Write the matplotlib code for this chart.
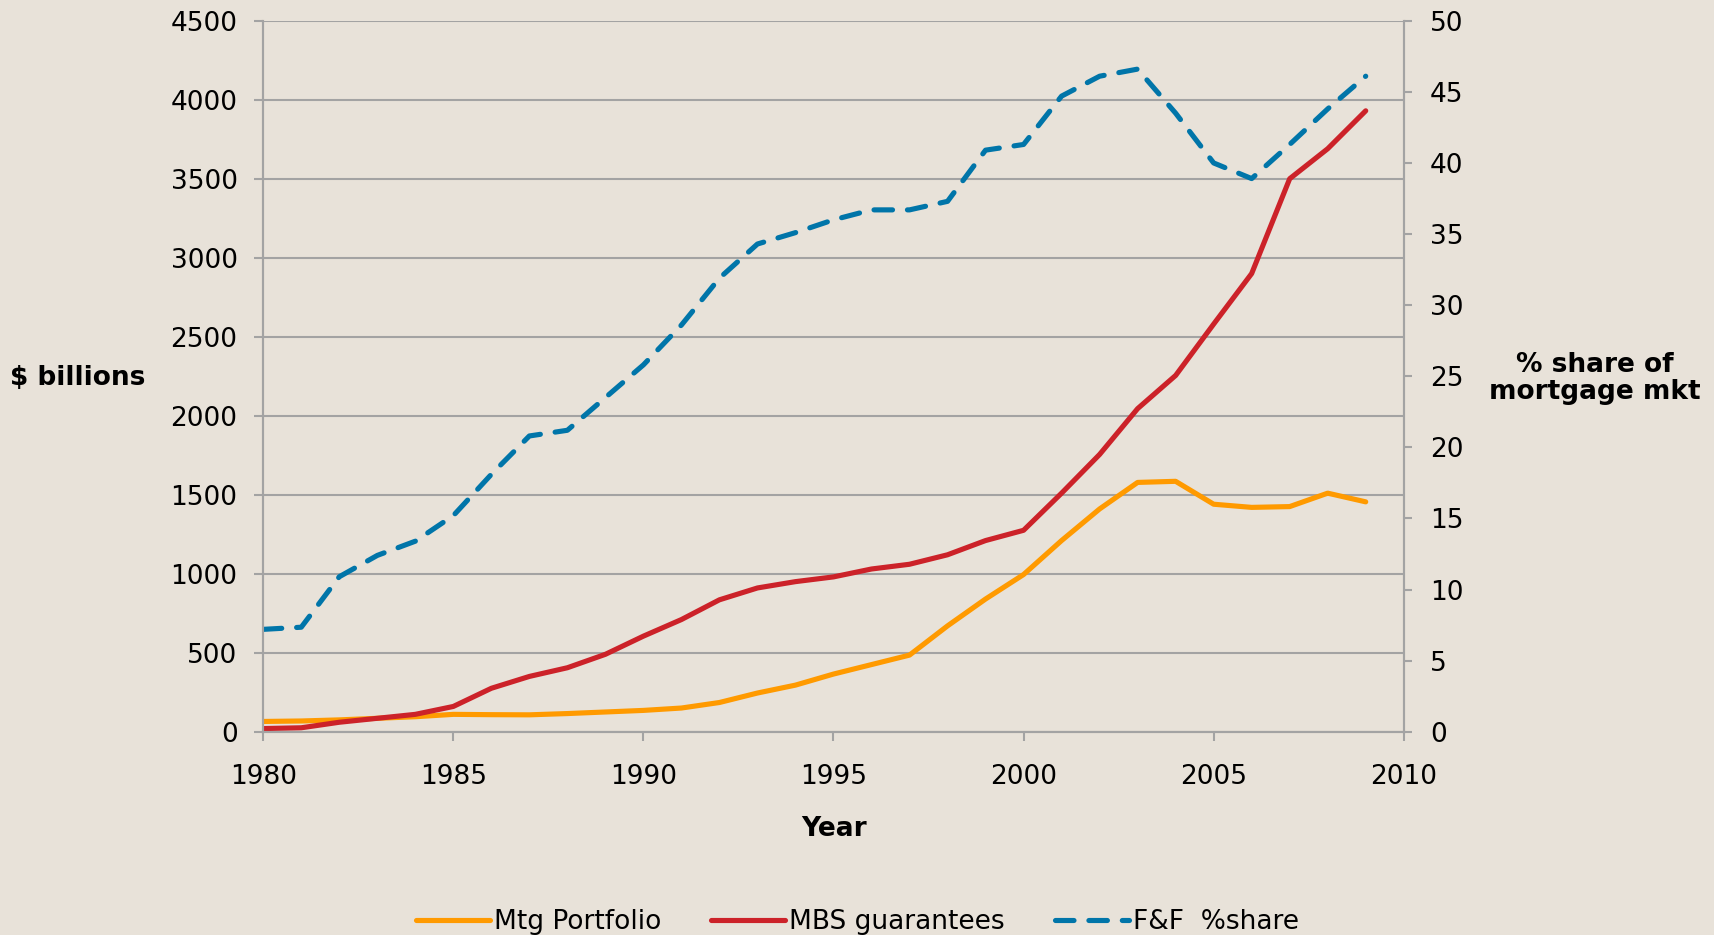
import matplotlib
matplotlib.use("Agg")
import matplotlib.pyplot as plt

years = list(range(1980, 2010))

mtg_portfolio = [65, 68, 75, 85, 95, 110, 108, 107, 115, 125,
                 135, 150, 185, 245, 295, 365, 425, 485, 670, 840,
                 995, 1210, 1410, 1578, 1585, 1440, 1420, 1425, 1510, 1455]

mbs_guarantees = [20, 25, 60, 85, 110, 160, 275, 350, 405, 490,
                  605, 710, 835, 910, 950, 980, 1030, 1060, 1120, 1210,
                  1275, 1510, 1755, 2045, 2255, 2580, 2900, 3500, 3690, 3930]

ff_share = [7.2, 7.35, 10.9, 12.4, 13.4, 15.2, 18.1, 20.8, 21.2, 23.5,
            25.8, 28.6, 31.9, 34.3, 35.1, 36.0, 36.7, 36.7, 37.3, 40.9,
            41.3, 44.7, 46.1, 46.6, 43.5, 40.0, 38.9, 41.3, 43.8, 46.1]

left_ticks = list(range(0, 4501, 500))
right_ticks = list(range(0, 51, 5))
x_ticks = list(range(1980, 2011, 5))

BG = "#E8E2D9"
GRID = "#A3A3A3"
ORANGE = "#FF9A00"
RED = "#CC2229"
BLUE = "#0075A9"

plt.rcParams["font.family"] = ["DejaVu Sans"]

fig = plt.figure(figsize=(17.15, 9.35), dpi=100, facecolor=BG)
ax = fig.add_axes([0.1535, 0.2174, 0.665, 0.7604])
ax.set_facecolor(BG)
ax2 = ax.twinx()

l1, = ax.plot(years, mtg_portfolio, color=ORANGE, lw=3.7, solid_capstyle="round",
              solid_joinstyle="round", label="Mtg Portfolio")
l2, = ax.plot(years, mbs_guarantees, color=RED, lw=3.7, solid_capstyle="round",
              solid_joinstyle="round", label="MBS guarantees")
l3, = ax2.plot(years, ff_share, color=BLUE, lw=3.7, dashes=(3.6, 2.9),
               dash_capstyle="round", label="F&F  %share")

ax.set_xlim(1980, 2010)
ax.set_ylim(0, 4500)
ax2.set_ylim(0, 50)
ax.set_xticks(x_ticks)
ax.set_yticks(left_ticks)
ax2.set_yticks(right_ticks)

ax.grid(axis="y", color=GRID, lw=1.5)
ax.set_axisbelow(True)
for a in (ax, ax2):
    for s in a.spines.values():
        s.set_color(GRID)
        s.set_linewidth(1.5)
    a.spines["top"].set_visible(False)
ax.tick_params(axis="y", length=6.5, width=1.5, color=GRID, pad=12, labelsize=19)
ax.tick_params(axis="x", length=6.5, width=1.5, color=GRID, pad=17, labelsize=19)
ax2.tick_params(axis="y", length=6, width=1.5, color=GRID, pad=13, labelsize=19)

fig.text(78 / 1715, 1 - 378 / 935, "$ billions", fontsize=19, fontweight="bold",
         ha="center", va="center")
fig.text(1595 / 1715, 1 - 379 / 935, "% share of\nmortgage mkt", fontsize=19,
         fontweight="bold", ha="center", va="center", linespacing=1.05)
fig.text(834 / 1715, 1 - 829 / 935, "Year", fontsize=19, fontweight="bold",
         ha="center", va="center")

fig.legend(handles=[l1, l2, l3], loc="center", bbox_to_anchor=(0.5, 0.014),
           ncol=3, frameon=False, fontsize=19, handlelength=2.8,
           handletextpad=0.15, columnspacing=1.9)

fig.savefig("out.png", dpi=100, facecolor=BG)
